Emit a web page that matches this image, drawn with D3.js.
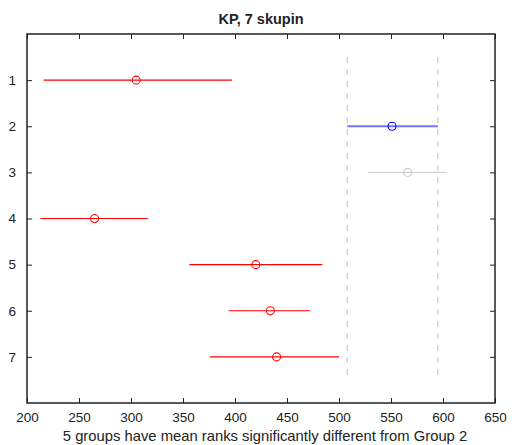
<!DOCTYPE html>
<html>
<head>
<meta charset="utf-8">
<script src="https://cdn.jsdelivr.net/npm/d3@7"></script>
<style>
  body { margin: 0; background: #fff; }
  text { font-family: "Liberation Sans", Arial, sans-serif; }
</style>
</head>
<body>
<svg id="chart" width="514" height="445"></svg>
<script>
// group data (mean rank, lower, upper)
var groups = [1, 2, 3, 4, 5, 6, 7];
var means = [305, 551, 566, 265, 420, 434, 440];
var lower = [216, 508, 528, 213, 356, 394, 376];
var upper = [397, 595, 603, 316, 484, 472, 500];
var colors = ['red', 'blue', 'gray', 'red', 'red', 'red', 'red'];
var xTicks = [200, 250, 300, 350, 400, 450, 500, 550, 600, 650];
var refGroup = 1; // index of Group 2

var svg = d3.select('#chart');
var m = { left: 27, right: 495, top: 34, bottom: 403 };

var x = d3.scaleLinear().domain([200, 650]).range([m.left, m.right]);
var y = d3.scaleLinear().domain([0, 8]).range([m.top, m.bottom]);

var lineColor = { red: '#ff0000', blue: '#7373ff', gray: '#d4d4d4' };
var dotColor = { red: '#ff0000', blue: '#0000ff', gray: '#cccccc' };

// dashed reference lines at the selected group's interval
[lower[refGroup], upper[refGroup]].forEach(function (v) {
  svg.append('line')
    .attr('x1', x(v)).attr('x2', x(v))
    .attr('y1', y(0.5)).attr('y2', y(7.5))
    .attr('stroke', '#cccccc')
    .attr('stroke-width', 1.2)
    .attr('stroke-dasharray', '6,6');
});

// intervals
svg.selectAll('line.ci').data(groups).enter().append('line')
  .attr('class', 'ci')
  .attr('x1', function (d, i) { return x(lower[i]); })
  .attr('x2', function (d, i) { return x(upper[i]); })
  .attr('y1', function (d) { return y(d); })
  .attr('y2', function (d) { return y(d); })
  .attr('stroke', function (d, i) { return lineColor[colors[i]]; })
  .attr('stroke-width', function (d, i) { return i === refGroup ? 2.2 : 1.2; });

// means
svg.selectAll('circle.mean').data(groups).enter().append('circle')
  .attr('class', 'mean')
  .attr('cx', function (d, i) { return x(means[i]); })
  .attr('cy', function (d) { return y(d); })
  .attr('r', 4)
  .attr('fill', 'none')
  .attr('stroke', function (d, i) { return dotColor[colors[i]]; })
  .attr('stroke-width', 1.1);

// axes, ticks inward
var tickLen = 5;
var xb = svg.append('g').attr('transform', 'translate(0,' + m.bottom + ')')
  .call(d3.axisBottom(x).tickValues(xTicks).tickSizeInner(-tickLen).tickSizeOuter(0).tickPadding(9));
var xt = svg.append('g').attr('transform', 'translate(0,' + m.top + ')')
  .call(d3.axisTop(x).tickValues(xTicks).tickSizeInner(-tickLen).tickSizeOuter(0).tickFormat(''));
var yl = svg.append('g').attr('transform', 'translate(' + m.left + ',0)')
  .call(d3.axisLeft(y).tickValues(groups).tickSizeInner(-tickLen).tickSizeOuter(0).tickPadding(11));
var yr = svg.append('g').attr('transform', 'translate(' + m.right + ',0)')
  .call(d3.axisRight(y).tickValues(groups).tickSizeInner(-tickLen).tickSizeOuter(0).tickFormat(''));

[xb, xt, yl, yr].forEach(function (g) {
  g.select('.domain').remove();
  g.selectAll('.tick line').attr('stroke', '#222').attr('stroke-width', 1);
  g.selectAll('.tick text').attr('font-size', 13.5).attr('fill', '#222')
    .style('font-family', '"Liberation Sans", Arial, sans-serif');
});

// frame
svg.append('rect')
  .attr('x', m.left).attr('y', m.top)
  .attr('width', m.right - m.left).attr('height', m.bottom - m.top)
  .attr('fill', 'none').attr('stroke', '#222').attr('stroke-width', 1.5);

svg.append('text')
  .attr('x', (m.left + m.right) / 2).attr('y', 24)
  .attr('text-anchor', 'middle')
  .attr('font-size', 14.5).attr('font-weight', 'bold').attr('fill', '#222')
  .text('KP, 7 skupin');

svg.append('text')
  .attr('x', (m.left + m.right) / 2 + 4).attr('y', 441)
  .attr('text-anchor', 'middle')
  .attr('font-size', 14.8).attr('fill', '#222')
  .text('5 groups have mean ranks significantly different from Group 2');
</script>
</body>
</html>
